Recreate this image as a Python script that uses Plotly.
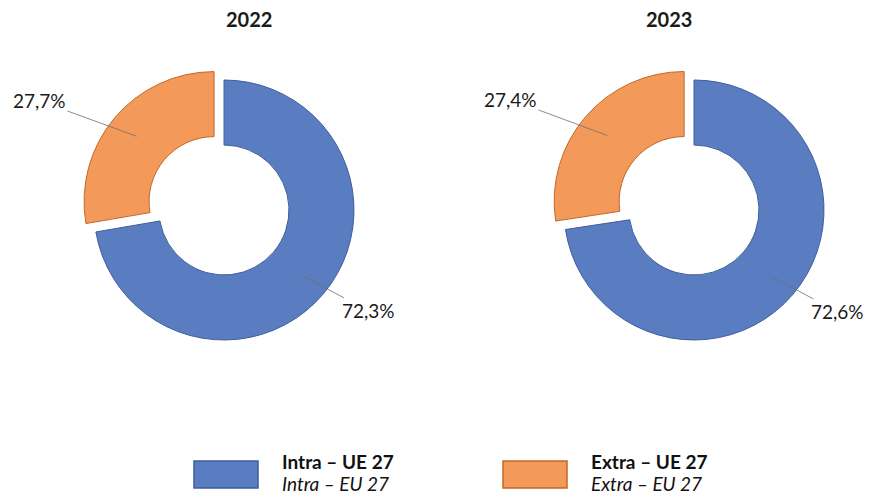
import math
import plotly.graph_objects as go

# data
years = ["2022", "2023"]
names_pt = ["Intra – UE 27", "Extra – UE 27"]
names_en = ["Intra – EU 27", "Extra – EU 27"]
shares_2022 = [72.3, 27.7]
shares_2023 = [72.6, 27.4]
shares = [shares_2022, shares_2023]

colors = ["#5A7CC0", "#F39A5A"]
edges = ["#3E5E9C", "#C2672B"]
pulls = [0, 0.1]
label_push = [25, 55]     # extra horizontal push of the data labels

# page body has an 8px margin, so the figure is drawn a bit smaller
OFF = 8
W, H = 872 - 2 * OFF, 504 - 2 * OFF
FONT = "Lato"
centers_x = [224, 694]    # donut centres in reference pixels
center_y = 210
R = 130
HOLE = 0.5

def to_paper(px, py):
    return (px - OFF) / W, 1 - (py - OFF) / H

def fmt(v):
    return f"{v:.1f}".replace(".", ",") + "%"

fig = go.Figure()
annotations = []
box = R * (1 + max(pulls))

for i, (yr, vals) in enumerate(zip(years, shares)):
    cx = centers_x[i]
    x0, y1 = to_paper(cx - box, center_y - box)
    x1, y0 = to_paper(cx + box, center_y + box)
    fig.add_trace(go.Pie(
        values=vals, labels=names_pt, sort=False, direction="clockwise", rotation=0,
        hole=HOLE, pull=pulls, textinfo="none", showlegend=False,
        marker=dict(colors=colors, line=dict(color=edges, width=1)),
        domain=dict(x=[x0, x1], y=[y0, y1]),
    ))
    tx, ty = to_paper(cx, 19)
    annotations.append(dict(text=f"<b>{yr}</b>", x=tx, y=ty, xref="paper", yref="paper",
                            yanchor="middle", showarrow=False,
                            font=dict(size=20, family=FONT, color="#1a1a1a")))
    # data labels with leader lines
    total = sum(vals)
    cum = 0
    for j, v in enumerate(vals):
        theta = math.radians((cum + v / 2) / total * 360)
        cum += v
        sx, sy = math.sin(theta), -math.cos(theta)
        pcx = cx + pulls[j] * R * sx
        pcy = center_y + pulls[j] * R * sy
        px, py = to_paper(pcx + 0.78 * R * sx, pcy + 0.78 * R * sy)
        k = 55
        annotations.append(dict(
            text=fmt(v), x=px, y=py, xref="paper", yref="paper", showarrow=True,
            arrowhead=0, arrowwidth=0.8, arrowcolor="#6f6f6f",
            ax=k * sx + math.copysign(label_push[j], sx), ay=k * sy,
            font=dict(size=19, family=FONT, color="#1a1a1a"),
        ))

# custom legend
legend_x = [194, 503]
shapes = []
for j in range(2):
    lx = legend_x[j]
    x0, y1 = to_paper(lx, 461)
    x1, y0 = to_paper(lx + 64, 488)
    shapes.append(dict(type="rect", xref="paper", yref="paper", x0=x0, x1=x1, y0=y0, y1=y1,
                       fillcolor=colors[j], line=dict(color=edges[j], width=1.5)))
    for text, yy in [(f"<b>{names_pt[j]}</b>", 461), (f"<i>{names_en[j]}</i>", 483)]:
        ax_, ay_ = to_paper(lx + 86, yy)
        annotations.append(dict(text=text, x=ax_, y=ay_, xref="paper", yref="paper",
                                xanchor="left", yanchor="middle", showarrow=False,
                                font=dict(size=19, family=FONT, color="#111111")))

fig.update_layout(
    width=W, height=H, margin=dict(l=0, r=0, t=0, b=0),
    paper_bgcolor="white", plot_bgcolor="white",
    font=dict(family=FONT), annotations=annotations, shapes=shapes,
)
fig.write_html("out.html")
